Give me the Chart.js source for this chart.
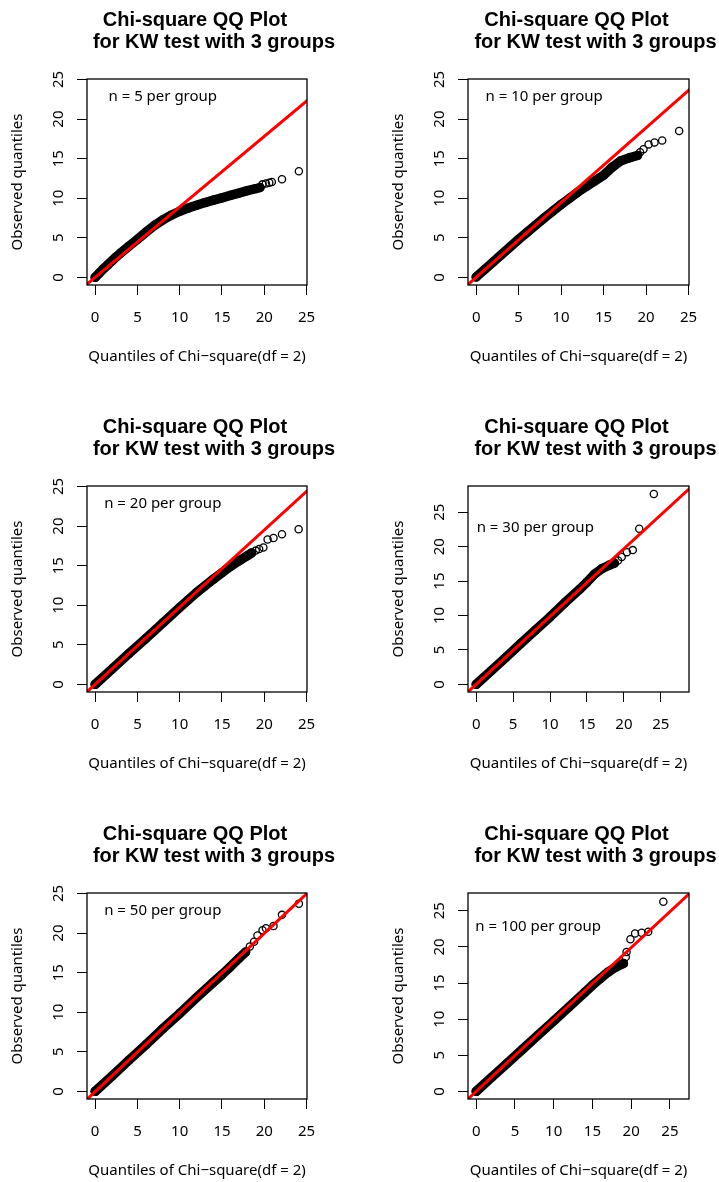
<!DOCTYPE html>
<html>
<head>
<meta charset="utf-8">
<script src="https://cdn.jsdelivr.net/npm/chart.js@4.4.1/dist/chart.umd.min.js"></script>
<style>
html, body { margin: 0; padding: 0; background: #fff; }
body { width: 719px; height: 1182px; position: relative; overflow: hidden; }
canvas { position: absolute; }
</style>
</head>
<body>
<canvas id="c0"></canvas>
<canvas id="c1"></canvas>
<canvas id="c2"></canvas>
<canvas id="c3"></canvas>
<canvas id="c4"></canvas>
<canvas id="c5"></canvas>
<script>
// ---------------- data ----------------
const panelN = [5, 10, 20, 30, 50, 100];
const titleLine1 = "Chi-square QQ Plot";
const titleLine2 = "for KW test with 3 groups";
const xAxisTitle = "Quantiles of Chi\u2212square(df = 2)";
const yAxisTitle = "Observed quantiles";
const xTickValues = [0, 5, 10, 15, 20, 25];
const yTickValues = [0, 5, 10, 15, 20, 25];
const axisMin = [-0.964, -0.964, -0.964, -1.108, -0.964, -1.056];
const axisMax = [25.06, 25.06, 25.06, 28.81, 25.06, 27.46];
// red reference line: y = intercept + slope * x
const refIntercept = [0.0, 0.0, 0.0, 0.0, -0.05, 0.0];
const refSlope = [0.89, 0.945, 0.975, 0.985, 1.0, 0.995];
// annotation position (data units)
const noteX = 8.0;
const noteY = 22.8;

// dense part of the QQ cloud (thick band of overlapping circles)
const band5X = [0, 0.5, 1, 1.5, 2, 2.5, 3, 4, 5, 6, 7, 8, 9, 10, 11, 12, 13, 14, 15, 16, 17, 18, 19, 19.5];
const band5Y = [0.0, 0.55, 1.1, 1.6, 2.1, 2.6, 3.05, 3.95, 4.8, 5.7, 6.55, 7.25, 7.85, 8.35, 8.75, 9.1, 9.45, 9.75, 10.05, 10.35, 10.65, 10.95, 11.2, 11.35];
const tail5X = [19.8, 20.2, 20.6, 20.9, 22.1, 24.1];
const tail5Y = [11.75, 11.85, 11.95, 12.05, 12.4, 13.4];

const band10X = [0, 1, 2, 3, 4, 5, 6, 7, 8, 9, 10, 11, 12, 13, 14, 15, 16, 17, 18, 19];
const band10Y = [0.05, 1.0, 1.95, 2.9, 3.85, 4.8, 5.7, 6.6, 7.5, 8.35, 9.2, 10.0, 10.8, 11.5, 12.2, 12.9, 13.9, 14.7, 15.1, 15.4];
const tail10X = [19.3, 19.7, 20.3, 21.0, 21.9, 23.9];
const tail10Y = [15.8, 16.2, 16.8, 17.05, 17.3, 18.5];

const band20X = [0, 2, 4, 6, 8, 10, 11, 12, 13, 14, 15, 16, 17, 18, 18.5];
const band20Y = [0.0, 1.95, 3.9, 5.8, 7.75, 9.7, 10.65, 11.6, 12.45, 13.3, 14.1, 14.9, 15.6, 16.25, 16.6];
const tail20X = [19.0, 19.4, 19.9, 20.4, 21.1, 22.1, 24.07];
const tail20Y = [16.9, 17.1, 17.3, 18.3, 18.5, 18.96, 19.6];

const band30X = [0, 2, 4, 6, 8, 10, 12, 14, 15, 16, 17, 18, 18.7];
const band30Y = [0.0, 1.95, 3.9, 5.9, 7.85, 9.8, 11.85, 13.8, 14.85, 16.0, 16.8, 17.3, 17.6];
const tail30X = [19.2, 19.7, 20.4, 21.2, 22.07, 24.05];
const tail30Y = [18.0, 18.5, 19.2, 19.5, 22.6, 27.65];

const band50X = [0, 2, 4, 6, 8, 10, 12, 14, 15, 16, 17, 17.8];
const band50Y = [0.0, 1.95, 3.95, 5.9, 7.9, 9.85, 11.85, 13.8, 14.75, 15.75, 16.8, 17.6];
const tail50X = [18.3, 18.8, 19.2, 19.8, 20.2, 21.1, 22.1, 24.1];
const tail50Y = [18.3, 18.9, 19.7, 20.35, 20.6, 20.9, 22.3, 23.7];

const band100X = [0, 2, 4, 6, 8, 10, 12, 14, 15, 16, 17, 18, 19];
const band100Y = [0.0, 1.95, 3.9, 5.85, 7.8, 9.75, 11.7, 13.7, 14.7, 15.6, 16.5, 17.2, 17.7];
const tail100X = [19.3, 19.4, 19.9, 20.5, 21.35, 22.2, 24.15];
const tail100Y = [18.6, 19.3, 21.05, 21.85, 21.95, 22.1, 26.25];

const bandX = [band5X, band10X, band20X, band30X, band50X, band100X];
const bandY = [band5Y, band10Y, band20Y, band30Y, band50Y, band100Y];
const tailX = [tail5X, tail10X, tail20X, tail30X, tail50X, tail100X];
const tailY = [tail5Y, tail10Y, tail20Y, tail30Y, tail50Y, tail100Y];

// ---------------- layout ----------------
const canvasLeft = [0, 381, 0, 381, 0, 381];
const canvasTop = [0, 0, 407, 407, 814, 814];
const canvasW = [360, 338, 360, 338, 360, 338];
const canvasH = [407, 407, 407, 407, 368, 368];
const boxW = [220, 221, 220, 221, 220, 221];
const Y_AXIS_W = 87, BOX_TOP = 79, BOX_BOTTOM = 285, X_AXIS_H = 81;

const TEXT_FONT = '"Noto Sans", "DejaVu Sans", sans-serif';

const pair = (xs, ys) => xs.map((x, i) => ({ x: x, y: ys[i] }));

const decorPlugin = {
  id: 'decor',
  afterDraw(chart, args, opts) {
    const { ctx, chartArea: a, scales } = chart;
    ctx.save();
    ctx.strokeStyle = '#000';
    ctx.lineWidth = 1.3;
    ctx.strokeRect(a.left, a.top, a.right - a.left, a.bottom - a.top);
    const cx = (a.left + a.right) / 2;
    ctx.fillStyle = '#000';
    ctx.font = 'bold 20px "Liberation Sans", Arial, sans-serif';
    ctx.textAlign = 'center';
    ctx.textBaseline = 'alphabetic';
    ctx.fillText(titleLine1, cx - 2, 25.5);
    ctx.fillText(titleLine2, cx + 17, 47.5);
    ctx.font = '15px ' + TEXT_FONT;
    ctx.textBaseline = 'middle';
    ctx.fillText(opts.label, scales.x.getPixelForValue(noteX), scales.y.getPixelForValue(noteY));
    ctx.restore();
  }
};

function makePanel(i) {
  const cv = document.getElementById('c' + i);
  cv.width = canvasW[i];
  cv.height = canvasH[i];
  cv.style.left = canvasLeft[i] + 'px';
  cv.style.top = canvasTop[i] + 'px';
  const lo = axisMin[i] - 2, hi = axisMax[i] + 2;
  const refLine = [
    { x: lo, y: refIntercept[i] + refSlope[i] * lo },
    { x: hi, y: refIntercept[i] + refSlope[i] * hi }
  ];
  const tickFont = { family: TEXT_FONT, size: 15 };
  new Chart(cv, {
    type: 'scatter',
    data: {
      datasets: [
        {
          data: refLine, showLine: true, borderColor: '#ff0000', borderWidth: 3,
          pointRadius: 0, order: 0
        },
        {
          data: pair(tailX[i], tailY[i]), showLine: false, borderColor: '#000',
          backgroundColor: 'rgba(0,0,0,0)', pointRadius: 3.6, pointBorderWidth: 1.3,
          pointBackgroundColor: 'rgba(0,0,0,0)', pointBorderColor: '#000', order: 1
        },
        {
          data: pair(bandX[i], bandY[i]), showLine: true, borderColor: '#000', borderWidth: 9.5,
          borderCapStyle: 'round', borderJoinStyle: 'round',
          pointRadius: 4.0, pointBorderWidth: 1.3, pointBorderColor: '#000',
          pointBackgroundColor: 'rgba(0,0,0,0)', order: 2
        }
      ]
    },
    options: {
      responsive: false,
      animation: false,
      events: [],
      layout: {
        padding: {
          left: 0,
          top: BOX_TOP,
          right: canvasW[i] - Y_AXIS_W - boxW[i],
          bottom: canvasH[i] - BOX_BOTTOM - X_AXIS_H
        }
      },
      plugins: {
        legend: { display: false },
        tooltip: { enabled: false },
        title: { display: false },
        decor: { label: 'n = ' + panelN[i] + ' per group' }
      },
      scales: {
        x: {
          type: 'linear', position: 'bottom',
          min: axisMin[i], max: axisMax[i],
          afterBuildTicks: (ax) => { ax.ticks = xTickValues.map(v => ({ value: v })); },
          afterFit: (ax) => { ax.height = X_AXIS_H; },
          border: { display: false },
          grid: { drawOnChartArea: false, drawTicks: true, tickLength: 10, color: '#000', lineWidth: 1 },
          ticks: {
            autoSkip: false, maxRotation: 0, minRotation: 0, padding: 14,
            color: '#000', font: tickFont, includeBounds: false
          },
          title: {
            display: true, text: xAxisTitle, color: '#000', font: tickFont,
            padding: { top: 0, bottom: 0 }
          }
        },
        y: {
          type: 'linear', position: 'left',
          min: axisMin[i], max: axisMax[i],
          afterBuildTicks: (ax) => { ax.ticks = yTickValues.map(v => ({ value: v })); },
          afterFit: (ax) => { ax.width = Y_AXIS_W; },
          border: { display: false },
          grid: { drawOnChartArea: false, drawTicks: true, tickLength: 10, color: '#000', lineWidth: 1 },
          ticks: {
            autoSkip: false, minRotation: 90, maxRotation: 90, crossAlign: 'center', padding: 10,
            color: '#000', font: tickFont, includeBounds: false
          },
          title: {
            display: true, text: yAxisTitle, color: '#000', font: tickFont,
            padding: { top: 8.5, bottom: 0 }
          }
        }
      }
    },
    plugins: [decorPlugin]
  });
}

for (let i = 0; i < 6; i++) makePanel(i);
</script>
</body>
</html>
